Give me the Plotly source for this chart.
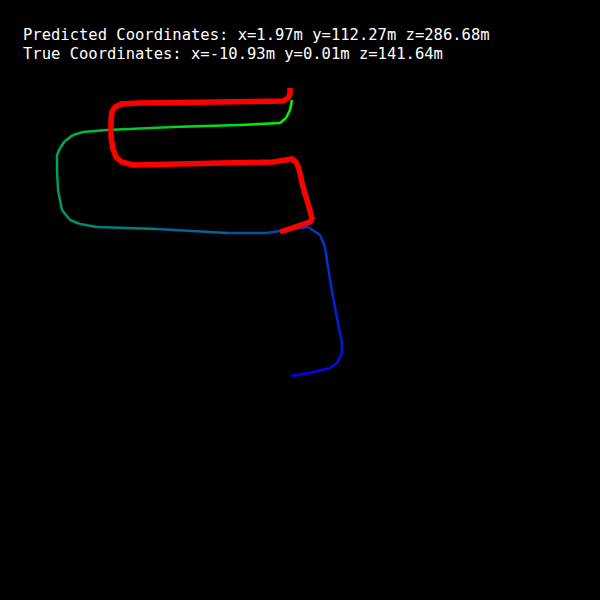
import numpy as np
import plotly.graph_objects as go

# ground truth trajectory (image frame, px), start -> end
true_x = [291, 310, 330, 337, 342, 342, 338, 333, 328, 325, 320, 308, 293, 267, 227, 157,
          97, 80, 70, 62, 58, 57, 57, 60, 65, 73, 83, 107, 173, 240, 280, 286, 290, 292]
true_y = [376, 373, 368, 363, 353, 343, 323, 297, 267, 247, 235, 227, 229, 233, 233, 229,
          227, 224, 220, 210, 190, 170, 155, 148, 141, 135, 132, 130, 127, 125, 123, 118, 110, 100]

# predicted trajectory
pred_x = [280, 293, 306, 310, 312, 311, 309, 303, 299, 296, 292, 273, 240, 173, 133, 122,
          116, 113, 111, 111, 112, 115, 121, 140, 240, 283, 288, 290, 290]
pred_y = [232, 228, 224, 222, 218, 213, 207, 187, 169, 162, 159, 162, 163, 165, 165, 162,
          157, 149, 137, 120, 112, 107, 104, 103, 102, 101, 98, 94, 88]

pred_label = "Predicted Coordinates: x=1.97m y=112.27m z=286.68m"
true_label = "True Coordinates: x=-10.93m y=0.01m z=141.64m"

fig = go.Figure()

# true path drawn blue -> green along its length
d = np.hypot(np.diff(true_x), np.diff(true_y))
t = np.concatenate([[0], np.cumsum(d)]) / d.sum()
for i in range(len(true_x) - 1):
    tm = (t[i] + t[i + 1]) / 2
    col = f"rgb(0,{int(255 * tm)},{int(255 * (1 - tm))})"
    fig.add_trace(go.Scatter(x=true_x[i:i + 2], y=true_y[i:i + 2], mode="lines",
                             line=dict(color=col, width=2.5), showlegend=False,
                             hoverinfo="skip"))

fig.add_trace(go.Scatter(x=pred_x, y=pred_y, mode="lines",
                         line=dict(color="rgb(255,0,0)", width=5.5),
                         showlegend=False, hoverinfo="skip"))

txt_font = dict(family="DejaVu Sans Mono", size=15.5, color="white")
fig.add_annotation(x=21, y=35, xref="x", yref="y", text=pred_label, showarrow=False,
                   xanchor="left", yanchor="middle", font=txt_font)
fig.add_annotation(x=21, y=54, xref="x", yref="y", text=true_label, showarrow=False,
                   xanchor="left", yanchor="middle", font=txt_font)

fig.update_xaxes(range=[0, 600], visible=False, fixedrange=True)
fig.update_yaxes(range=[600, 0], visible=False, fixedrange=True)
fig.update_layout(width=600, height=600, margin=dict(l=0, r=0, t=0, b=0),
                  paper_bgcolor="black", plot_bgcolor="black")

# drop the page margin so the canvas sits at the window corner
fig.write_html("out.html", config={"displayModeBar": False},
               post_script="document.body.style.margin='0';document.body.style.background='black';")
